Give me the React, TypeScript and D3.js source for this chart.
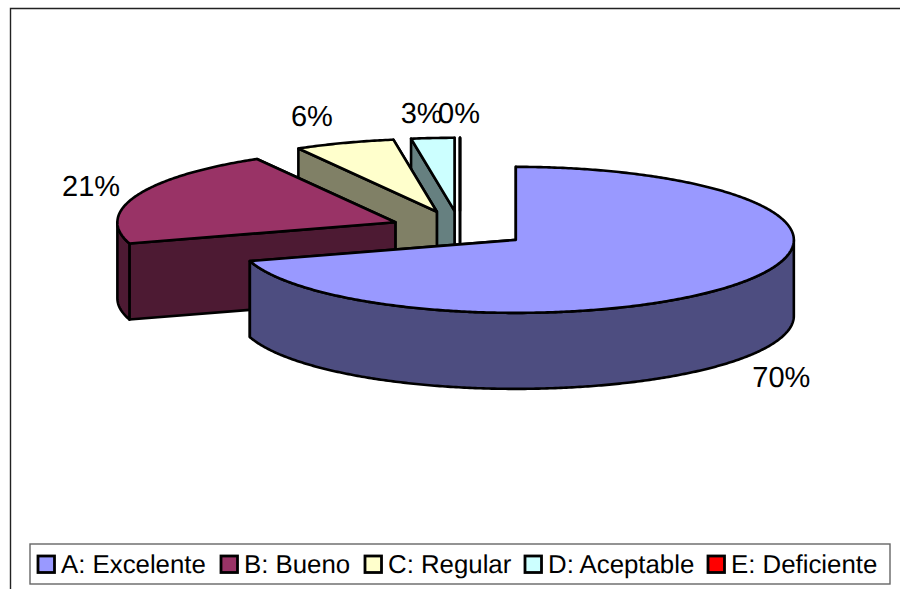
import React from "react";
import * as d3 from "d3";

const categories = ["A: Excelente", "B: Bueno", "C: Regular", "D: Aceptable", "E: Deficiente"];
const shares = [70.3, 21.4, 5.8, 2.5, 0];
const topColors = ["#9999FF", "#993366", "#FFFFCC", "#CCFFFF", "#FF0000"];
const wallColors = ["#4D4D80", "#4D1A33", "#808066", "#668080", "#800000"];

const W = 900, H = 589;
const CX = 460, CY = 229, RX = 278, RY = 73, DEPTH = 76, EXPLODE = 0.25;
const LABEL_RX = 400, LABEL_RY = 118;
const labelNudgeX = [0, 3, -15, -7, -1];
const labelNudgeY = [3, 1, -1, 3, 3];
const legendX = [38, 221, 365, 525, 708];

type Pt = [number, number];
const line = d3.line<Pt>().x(d => d[0]).y(d => d[1]);

const pieGen = d3.pie<number>().sort(null).value(d => d);
const arcs = pieGen(shares);

function sliceGeometry(startAngle: number, endAngle: number) {
  const mid = (startAngle + endAngle) / 2;
  const ax = CX + EXPLODE * RX * Math.sin(mid);
  const ay = CY - EXPLODE * RY * Math.cos(mid);
  const at = (a: number, down = 0): Pt => [ax + RX * Math.sin(a), ay - RY * Math.cos(a) + down];
  const sweep = (from: number, to: number, down = 0): Pt[] => {
    const n = Math.max(1, Math.ceil(Math.abs(to - from) / 0.01));
    return d3.range(n + 1).map(i => at(from + ((to - from) * i) / n, down));
  };
  const apex: Pt = [ax, ay];
  const apexDown: Pt = [ax, ay + DEPTH];
  const top = [apex, ...sweep(startAngle, endAngle)];
  const startWall = [apex, at(startAngle), at(startAngle, DEPTH), apexDown];
  const endWall = [apex, at(endAngle), at(endAngle, DEPTH), apexDown];
  const rimFrom = Math.max(startAngle, Math.PI / 2);
  const rimTo = Math.min(endAngle, (3 * Math.PI) / 2);
  const rim = rimTo > rimFrom
    ? [...sweep(rimFrom, rimTo), ...sweep(rimTo, rimFrom, DEPTH)]
    : null;
  return { mid, top, startWall, endWall, rim };
}

const slices = arcs.map((a, i) => ({ i, ...sliceGeometry(a.startAngle, a.endAngle) }));
const drawOrder = [...slices].reverse();

const labelPos = (mid: number, i: number): Pt => {
  const front = Math.cos(mid) < 0;
  return [
    CX + LABEL_RX * Math.sin(mid) + labelNudgeX[i],
    CY - LABEL_RY * Math.cos(mid) + (front ? DEPTH : 0) + labelNudgeY[i],
  ];
};

const FONT = "'Liberation Sans', Arial, sans-serif";

export default function App() {
  const outline = { stroke: "#000", strokeWidth: 2.6, strokeLinejoin: "round" as const };
  return (
    <svg
      width={W}
      height={H}
      viewBox={`0 0 ${W} ${H}`}
      style={{ position: "absolute", left: 0, top: 0, background: "#fff" }}
      textRendering="geometricPrecision"
    >
      <path d={`M10.5,${H}V8.5H${W}`} fill="none" stroke="#222" strokeWidth={1.4} />
      {drawOrder.map(s => (
        <g key={categories[s.i]}>
          <path d={line(s.endWall)! + "Z"} fill={wallColors[s.i]} {...outline} />
          <path d={line(s.startWall)! + "Z"} fill={wallColors[s.i]} {...outline} />
          {s.rim && <path d={line(s.rim)! + "Z"} fill={wallColors[s.i]} {...outline} />}
          <path d={line(s.top)! + "Z"} fill={topColors[s.i]} {...outline} />
        </g>
      ))}
      {slices.map(s => {
        const [x, y] = labelPos(s.mid, s.i);
        return (
          <text
            key={s.i}
            x={x}
            y={y}
            textAnchor="middle"
            dominantBaseline="central"
            fontFamily={FONT}
            fontSize={29}
            fill="#000"
          >
            {Math.round(shares[s.i])}%
          </text>
        );
      })}
      <rect x={30} y={544} width={860} height={40} fill="#fff" stroke="#666" strokeWidth={1.4} />
      {categories.map((c, i) => (
        <g key={c}>
          <rect x={legendX[i]} y={556} width={16.5} height={16.5} fill={topColors[i]} stroke="#000" strokeWidth={2.8} />
          <text x={legendX[i] + 23} y={573} fontFamily={FONT} fontSize={25.8} fill="#000">
            {c}
          </text>
        </g>
      ))}
    </svg>
  );
}
